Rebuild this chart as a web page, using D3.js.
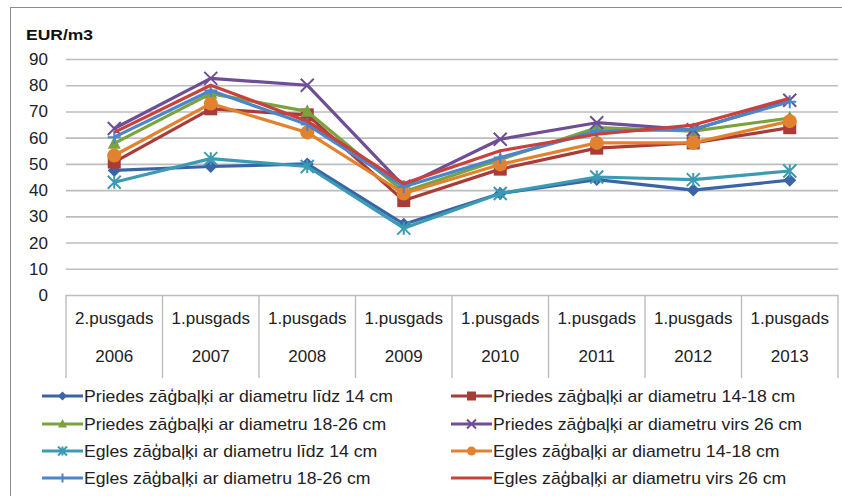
<!DOCTYPE html>
<html>
<head>
<meta charset="utf-8">
<script src="https://cdn.jsdelivr.net/npm/d3@7/dist/d3.min.js"></script>
<style>
  html, body { margin: 0; padding: 0; background: #fff; }
  svg { display: block; }
</style>
</head>
<body>
<div id="chart"></div>
<script>
// ── Data ───────────────────────────────────────────────────────────────────
const periods = ['2.pusgads', '1.pusgads', '1.pusgads', '1.pusgads', '1.pusgads', '1.pusgads', '1.pusgads', '1.pusgads'];
const years   = ['2006', '2007', '2008', '2009', '2010', '2011', '2012', '2013'];
const yTicks  = [0, 10, 20, 30, 40, 50, 60, 70, 80, 90];

const seriesNames = [
  'Priedes zāģbaļķi ar diametru līdz 14 cm',
  'Priedes zāģbaļķi ar diametru 14-18 cm',
  'Priedes zāģbaļķi ar diametru 18-26 cm',
  'Priedes zāģbaļķi ar diametru virs 26 cm',
  'Egles zāģbaļķi ar diametru līdz 14 cm',
  'Egles zāģbaļķi ar diametru 14-18 cm',
  'Egles zāģbaļķi ar diametru 18-26 cm',
  'Egles zāģbaļķi ar diametru virs 26 cm',
];

const priedes14   = [47.5, 49, 50, 27, 38.7, 44, 40, 43.8];
const priedes1418 = [50.7, 71, 68.7, 36, 48, 56, 58, 63.8];
const priedes1826 = [57.8, 76.8, 70, 39.4, 51.7, 63.8, 62.5, 67.5];
const priedes26   = [63.5, 82.6, 80, 41.5, 59.4, 65.7, 63, 74.3];
const egles14     = [43, 52, 49, 25.5, 38.7, 45, 44, 47.3];
const egles1418   = [53.2, 73, 62, 38.7, 49.8, 58, 58, 66.3];
const egles1826   = [60.2, 78, 65, 41.3, 52.4, 62.5, 63.2, 73.7];
const egles26     = [62, 80, 66.3, 42.5, 55, 61.3, 64.8, 75];

const seriesValues = [priedes14, priedes1418, priedes1826, priedes26, egles14, egles1418, egles1826, egles26];
const colors  = ['#3A64A6', '#A93C39', '#7AA33C', '#6E4E95', '#3A9BB2', '#E2822E', '#4A86C9', '#C8413D'];
const markers = ['diamond', 'square', 'triangle', 'x', 'star', 'circle', 'plus', 'none'];

// ── Layout ─────────────────────────────────────────────────────────────────
const W = 842, H = 496;
const plot = { left: 66, right: 838, top: 59, bottom: 295 };
const tableBottom = 378;
const FONT = '"Liberation Sans", Arial, sans-serif';

const svg = d3.select('#chart').append('svg').attr('width', W).attr('height', H);

// frame (runs off the right and bottom edge like the source image)
svg.append('rect')
  .attr('x', 10.5).attr('y', 7.5).attr('width', W).attr('height', H)
  .attr('fill', 'none').attr('stroke', '#8c8c8c').attr('stroke-width', 1);

const x = d3.scaleBand().domain(d3.range(years.length)).range([plot.left, plot.right]);
const y = d3.scaleLinear().domain([0, 90]).range([plot.bottom, plot.top]);
const cx = i => x(i) + x.bandwidth() / 2;

// gridlines + y labels
const yAxis = d3.axisLeft(y).tickValues(yTicks).tickSize(-(plot.right - plot.left)).tickPadding(18);
const gy = svg.append('g').attr('transform', `translate(${plot.left},0)`).call(yAxis);
gy.select('.domain').remove();
gy.selectAll('.tick line').attr('stroke', '#bdbdbd').attr('stroke-width', 1.6);
gy.selectAll('.tick text')
  .attr('font-family', FONT).attr('font-size', 17).attr('fill', '#222');

// unit label
svg.append('text')
  .attr('x', 26).attr('y', 40)
  .attr('font-family', FONT)
  .attr('font-size', 15).attr('font-weight', 'bold').attr('fill', '#111')
  .attr('textLength', 67).attr('lengthAdjust', 'spacingAndGlyphs')
  .text('EUR/m3');

// category table
const bounds = d3.range(years.length + 1).map(i => i < years.length ? x(i) : x.range()[1]);
svg.append('g').selectAll('line').data(bounds).join('line')
  .attr('x1', d => d).attr('x2', d => d)
  .attr('y1', plot.bottom).attr('y2', tableBottom)
  .attr('stroke', '#bdbdbd').attr('stroke-width', 1.4);

svg.append('g').selectAll('text').data(periods).join('text')
  .attr('x', (d, i) => cx(i))
  .attr('y', 324)
  .attr('text-anchor', 'middle')
  .attr('font-family', FONT).attr('font-size', 17).attr('fill', '#222')
  .text(d => d);

svg.append('g').selectAll('text').data(years).join('text')
  .attr('x', (d, i) => cx(i))
  .attr('y', 362)
  .attr('text-anchor', 'middle')
  .attr('font-family', FONT).attr('font-size', 17).attr('fill', '#222')
  .text(d => d);

// ── Markers ────────────────────────────────────────────────────────────────
function drawMarker(g, type, color, s) {
  const h = s / 2;
  if (type === 'diamond') {
    g.append('path').attr('d', `M0,${-h}L${h},0L0,${h}L${-h},0Z`).attr('fill', color);
  } else if (type === 'square') {
    g.append('rect').attr('x', -h).attr('y', -h).attr('width', s).attr('height', s).attr('fill', color);
  } else if (type === 'triangle') {
    g.append('path').attr('d', `M0,${-h * 1.1}L${h},${h * 0.8}L${-h},${h * 0.8}Z`).attr('fill', color);
  } else if (type === 'circle') {
    g.append('circle').attr('r', h).attr('fill', color);
  } else if (type === 'x') {
    g.append('path').attr('d', `M${-h},${-h}L${h},${h}M${-h},${h}L${h},${-h}`)
      .attr('stroke', color).attr('stroke-width', 2).attr('fill', 'none');
  } else if (type === 'plus') {
    g.append('path').attr('d', `M${-h},0L${h},0M0,${-h}L0,${h}`)
      .attr('stroke', color).attr('stroke-width', 2).attr('fill', 'none');
  } else if (type === 'star') {
    g.append('path').attr('d', `M${-h},${-h}L${h},${h}M${-h},${h}L${h},${-h}M0,${-h}L0,${h}`)
      .attr('stroke', color).attr('stroke-width', 2).attr('fill', 'none');
  }
}

// ── Series ─────────────────────────────────────────────────────────────────
const line = d3.line().x((d, i) => cx(i)).y(d => y(d));

seriesValues.forEach((vals, si) => {
  const g = svg.append('g');
  g.append('path').datum(vals)
    .attr('d', line)
    .attr('fill', 'none')
    .attr('stroke', colors[si])
    .attr('stroke-width', 3.2)
    .attr('stroke-linejoin', 'round');
  vals.forEach((v, i) => {
    const m = g.append('g').attr('transform', `translate(${cx(i)},${y(v)})`);
    drawMarker(m, markers[si], colors[si], markers[si] === 'circle' ? 14 : 13);
  });
});

// ── Legend ─────────────────────────────────────────────────────────────────
const legendCols = [42, 451];
const legendRows = [396, 424, 451, 478];
const legendTextW = 309;   // width of the first entry in the source
const legend = svg.append('g');
seriesNames.forEach((name, si) => {
  const lx = legendCols[si % 2];
  const ly = legendRows[Math.floor(si / 2)];
  legend.append('line')
    .attr('x1', lx).attr('x2', lx + 41).attr('y1', ly).attr('y2', ly)
    .attr('stroke', colors[si]).attr('stroke-width', 3.2);
  const m = legend.append('g').attr('transform', `translate(${lx + 20.5},${ly})`);
  drawMarker(m, markers[si], colors[si], 9);
  legend.append('text')
    .attr('class', 'lt')
    .attr('x', lx + 42).attr('y', ly + 6)
    .attr('font-family', FONT).attr('font-size', 17).attr('fill', '#222')
    .text(name);
});
// stretch the legend labels to the source width, same factor for all
const lts = legend.selectAll('.lt').nodes();
const k = legendTextW / lts[0].getComputedTextLength();
lts.forEach(n => {
  n.setAttribute('textLength', n.getComputedTextLength() * k);
  n.setAttribute('lengthAdjust', 'spacingAndGlyphs');
});
</script>
</body>
</html>
